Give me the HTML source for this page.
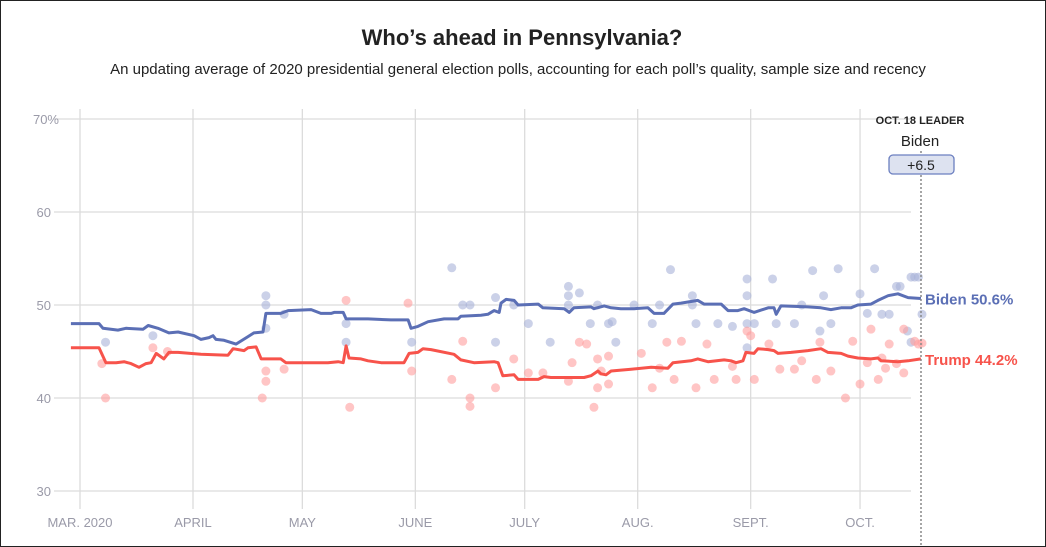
<!DOCTYPE html>
<html><head><meta charset="utf-8"><style>
html,body{margin:0;padding:0;background:#fff;}
#wrap{position:relative;width:1044px;height:545px;border:1px solid #222;overflow:hidden;font-family:"Liberation Sans",Arial,sans-serif;}
</style></head><body>
<div id="wrap">
<svg id="chart" width="1044" height="545" xmlns="http://www.w3.org/2000/svg">
<text x="521" y="44" text-anchor="middle" font-size="22" font-weight="bold" fill="#222">Who’s ahead in Pennsylvania?</text>
<text x="517" y="73" text-anchor="middle" font-size="15" fill="#222">An updating average of 2020 presidential general election polls, accounting for each poll’s quality, sample size and recency</text>
<g id="grid"></g><g id="dots"></g><g id="lines"></g><g id="labels"></g>
<line x1="920" y1="150" x2="920" y2="545" stroke="#888" stroke-width="1.5" stroke-dasharray="2,2"/>
<text x="919" y="123" text-anchor="middle" font-size="11" font-weight="bold" fill="#222">OCT. 18 LEADER</text>
<text x="919" y="145" text-anchor="middle" font-size="15" fill="#222">Biden</text>
<rect x="888" y="154" width="65" height="19" rx="4" fill="#dde2f0" stroke="#6b7fc0" stroke-width="1.3"/>
<text x="920" y="169" text-anchor="middle" font-size="14" fill="#222">+6.5</text>
</svg>
</div>
<script>
const yTicks=[30,40,50,60,70];
const monthLabels=["MAR. 2020","APRIL","MAY","JUNE","JULY","AUG.","SEPT.","OCT."];
const monthDays=[0,31,61,92,122,153,184,214];
const bidenDays=[-2.5,5.2,6.3,10.4,12.6,17.3,18.7,21.4,24.4,26.9,31.3,33.2,35.4,36.5,37.3,39.5,42.8,46.1,47.7,50.2,51,55.1,57.1,63.4,66.1,68.9,69.7,72.2,73,77.1,79,85.3,90,90.8,92.7,95.5,99.9,103.7,104.5,110,111.9,113.6,115,115.5,116.9,119.1,120.2,125.7,127,132.8,134.2,135.5,140.2,141,143.8,145.7,148.4,152,155.8,157.5,160.2,162.7,164.9,169.5,171.2,175.9,177.8,180.5,182.2,184.9,188.8,190.4,191,192.3,199.7,203.3,206,208.8,211.5,213.4,217,218.9,221.7,224.4,227.2,230.7];
const bidenVals=[48,48,47.5,47.3,47.5,47.4,47.8,47.5,47,47.1,46.7,46.3,46.5,46.7,46.3,46.2,45.8,46.6,47,47.1,49.1,49.1,49.4,49.5,49.1,49.1,49.2,49.2,48.5,48.5,48.5,48.4,48.4,47.5,47.7,48.2,48.5,48.5,48.8,48.9,49,49.4,49.2,50.2,50.6,50.5,50,50.1,49.7,49.6,49.2,49.7,49.8,49.6,49.9,49.7,49.6,49.6,49.7,49.1,49.1,50.1,50.2,50.5,50.1,50.1,49.4,49.4,49.6,49.2,49.7,49.7,49,49.9,49.8,49.7,49.5,49.7,49.7,50,50.1,50.5,51,51.2,50.8,50.7];
const trumpDays=[-2.5,5.2,7.1,9.9,12.1,14,16.2,18.1,19.5,20.9,23,24.4,26.9,33.2,40.6,42,45,46.1,48.3,49.7,55.1,56.5,68,70.8,72.2,73,73.8,77.1,79,82.6,88.9,90.3,92.7,94.1,96.3,102.6,104.5,108.1,113.6,114.7,116,119.1,120.2,125.7,127.3,129.2,138.3,140.2,142.1,142.9,144.3,145.7,151.2,156.7,161.3,162.7,167.6,169.5,172.3,176.7,178.6,180,181.9,182.7,184.9,186,188.8,190.4,191.5,195.1,199.7,203.3,205.2,208.8,210.7,213.4,217,218.9,219.8,224.4,227.2,230.7];
const trumpVals=[45.4,45.4,43.8,43.8,43.9,43.7,43.3,43.7,43.8,44.8,44.2,44.9,44.9,44.7,44.6,45.3,45.1,45.4,45.5,44.2,44.2,43.8,43.8,43.9,43.8,45.6,44.3,44.2,44,43.8,43.8,44.8,44.9,45.3,45.2,44.7,44.1,43.8,43.9,43.8,42.4,42.5,42,42,42.3,42.2,42.2,42.4,42.9,42.6,42.5,42.9,43.1,43.3,43.2,43.8,44,44.2,43.9,44.1,44,43.8,44,44.9,44.8,45.3,45.2,45.1,44.8,44.9,45.1,45.3,44.9,44.8,44.5,44.3,44.2,44.3,44,43.9,44,44.2];
const bPollDays=[7,20,51,51,51,56,73,73,91,102,105,107,114,114,119,123,129,134,134,137,134,140,142,145,146,147,152,157,159,162,168,168,169,175,179,183,183,183,183,185,190,191,196,198,201,203,204,206,208,214,216,218,220,222,224,225,228,229,230,227,228,231];
const bPollVals=[46,46.7,51,50,47.5,49,48,46,46,54,50,50,46,50.8,50,48,46,52,51,51.3,50,48,50,48,48.2,46,50,48,50,53.8,51,50,48,48,47.7,52.8,51,48,45.4,48,52.8,48,48,50,53.7,47.2,51,48,53.9,51.2,49.1,53.9,49,49,52,52,53,53,53,47.2,46,49];
const tPollDays=[7,6,20,24,51,50,51,56,73,74,90,91,102,107,107,105,114,119,123,127,134,137,139,135,141,142,143,142,145,145,154,157,159,161,165,163,169,172,174,179,180,184,183,185,189,192,196,198,203,202,206,210,212,214,217,216,219,221,222,226,224,226,229,230,231,220];
const tPollVals=[40,43.7,45.4,45,41.8,40,42.9,43.1,50.5,39,50.2,42.9,42,40,39.1,46.1,41.1,44.2,42.7,42.7,41.8,46,45.8,43.8,39,41.1,42.9,44.2,44.5,41.5,44.8,41.1,43.2,46,46.1,42,41.1,45.8,42,43.4,42,46.7,47.2,42,45.8,43.1,43.1,44,46,42,42.9,40,46.1,41.5,47.4,43.8,42,43.2,45.8,47.4,43.7,42.7,46.1,45.8,45.9,44.3];

const NS="http://www.w3.org/2000/svg";
const X=d=>79+d*3.645;
const Y=v=>304-(v-50)*9.3;
function mk(tag,attrs,parent){const e=document.createElementNS(NS,tag);for(const k in attrs)e.setAttribute(k,attrs[k]);parent.appendChild(e);return e;}
const grid=document.getElementById('grid'),dots=document.getElementById('dots'),lines=document.getElementById('lines'),labels=document.getElementById('labels');
yTicks.forEach(t=>{
 const l=mk('line',{x1:53,x2:910,y1:Y(t),y2:Y(t),stroke:'#dcdcdc','stroke-width':1.3},grid);
 
 
 const tx=mk('text',{x:t===70?58:50,y:Y(t)+5,'text-anchor':'end','font-size':13,fill:'#9a9aa8'},labels);
 tx.textContent=t===70?'70%':String(t);
 
 
});
monthDays.forEach((d,i)=>{
 const l=mk('line',{x1:X(d),x2:X(d),y1:108,y2:508,stroke:'#dcdcdc','stroke-width':1.3},grid);
 
 
 const tx=mk('text',{x:X(d),y:526,'text-anchor':'middle','font-size':13,fill:'#9a9aa8'},labels);
 tx.textContent=monthLabels[i];
 
 
});
function drawDots(days,vals,col,name){days.forEach((d,i)=>{
 const c=mk('circle',{cx:X(d),cy:Y(vals[i]),r:4.5,fill:col,opacity:0.6},dots);
 
 
});}
drawDots(bPollDays,bPollVals,'#a8b3d8','biden-poll-dot');
drawDots(tPollDays,tPollVals,'#ff9e9e','trump-poll-dot');
function drawLine(days,vals,col,name){
 const p=mk('path',{d:days.map((d,i)=>(i?'L':'M')+X(d).toFixed(1)+','+Y(vals[i]).toFixed(1)).join(''),fill:'none',stroke:col,'stroke-width':3,'stroke-linejoin':'round'},lines);
 
 
}
drawLine(bidenDays,bidenVals,'#5b6fb5','biden-average-line');
drawLine(trumpDays,trumpVals,'#f7534b','trump-average-line');
const bl=mk('text',{x:924,y:Y(bidenVals[bidenVals.length-1])+6,'font-size':15,'font-weight':'bold',fill:'#5b6fb5'},labels);
bl.textContent='Biden 50.6%';


const tl=mk('text',{x:924,y:Y(trumpVals[trumpVals.length-1])+6,'font-size':15,'font-weight':'bold',fill:'#f7534b'},labels);
tl.textContent='Trump 44.2%';


</script>
</body></html>
